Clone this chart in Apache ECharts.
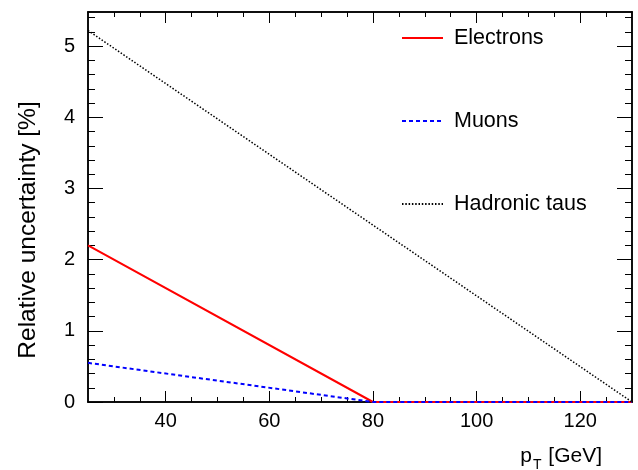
<!DOCTYPE html>
<html lang="en">
<head>
    <meta charset="UTF-8">
    <title>Relative uncertainty</title>
    <style>
        body{ margin: 0; background: #fff; }
        #main{ width: 638px; height: 470px; }
    </style>
</head>
<body>
<div id="main"></div>
<script src="https://cdn.jsdelivr.net/npm/echarts@6/dist/echarts.min.js"></script>
<script>
    const chart = echarts.init(document.getElementById('main'));

    // data
    const ptEdges = [25, 80, 130];
    const electrons = [2.2, 0, 0];
    const muons = [0.55, 0, 0];
    const tauPt = [25, 130];
    const taus = [5.22, 0];

    const xMajor = [40, 60, 80, 100, 120];
    const xMinor = [30, 35, 45, 50, 55, 65, 70, 75, 85, 90, 95, 105, 110, 115, 125];
    const yMajor = [0, 1, 2, 3, 4, 5];
    const yMinor = [0.2, 0.4, 0.6, 0.8, 1.2, 1.4, 1.6, 1.8, 2.2, 2.4, 2.6, 2.8,
        3.2, 3.4, 3.6, 3.8, 4.2, 4.4, 4.6, 4.8, 5.2, 5.4];

    const font = 'Liberation Sans, Arial, Helvetica, sans-serif';
    const black = '#000';

    function xAx(pos, ticks, len, labels) {
        return {
            type: 'value', min: 25, max: 130, position: pos,
            axisLine: {show: true, onZero: false, lineStyle: {color: black, width: 1.5}},
            axisTick: {show: true, inside: true, length: len, customValues: ticks,
                lineStyle: {color: black, width: 1}},
            axisLabel: {show: labels, customValues: ticks, margin: 9,
                fontSize: 20, color: black, fontFamily: font},
            splitLine: {show: false}
        };
    }
    function yAx(pos, ticks, len, labels) {
        return {
            type: 'value', min: 0, max: 5.48, position: pos,
            axisLine: {show: true, onZero: false, lineStyle: {color: black, width: 1.5}},
            axisTick: {show: true, inside: true, length: len, customValues: ticks,
                lineStyle: {color: black, width: 1}},
            axisLabel: {show: labels, customValues: ticks, margin: 13,
                fontSize: 20, color: black, fontFamily: font},
            splitLine: {show: false}
        };
    }

    const xAxes = [xAx('bottom', xMajor, 11, true), xAx('bottom', xMinor, 5, false),
        xAx('top', xMajor, 11, false), xAx('top', xMinor, 5, false)];
    xAxes[0].name = '{p|p}{t|T}{p| [GeV]}';
    xAxes[0].nameLocation = 'end';
    xAxes[0].nameGap = -30;
    xAxes[0].nameTextStyle = {
        align: 'right', verticalAlign: 'top', padding: [38, 0, 0, 0],
        rich: {
            p: {fontSize: 21, color: black, fontFamily: font},
            t: {fontSize: 14, color: black, fontFamily: font, padding: [18, 1, 0, 1]}
        }
    };

    const yAxes = [yAx('left', yMajor, 15, true), yAx('left', yMinor, 7, false),
        yAx('right', yMajor, 15, false), yAx('right', yMinor, 7, false)];
    yAxes[0].name = 'Relative uncertainty [%]';
    yAxes[0].nameLocation = 'middle';
    yAxes[0].nameGap = 47;
    yAxes[0].nameTextStyle = {fontSize: 24.5, color: black, fontFamily: font, padding: [0, 46, 0, 0]};

    const option = {
        animation: false,
        grid: {left: 88, right: 6, top: 12, bottom: 68, outerBoundsMode: 'none', containLabel: false},
        legend: {
            orient: 'vertical', left: 401, top: 27, padding: 0,
            itemWidth: 41, itemHeight: 14, itemGap: 61,
            itemStyle: {color: 'transparent', borderWidth: 0},
            textStyle: {fontSize: 21.5, color: black, fontFamily: font, padding: [0, 0, 0, 6]},
            data: ['Electrons', 'Muons', 'Hadronic taus']
        },
        xAxis: xAxes,
        yAxis: yAxes,
        series: [
            {
                name: 'Electrons', type: 'line', symbol: 'none',
                data: ptEdges.map((x, i) => [x, electrons[i]]),
                lineStyle: {color: '#ff0000', width: 2}, itemStyle: {color: '#ff0000'}
            },
            {
                name: 'Muons', type: 'line', symbol: 'none',
                data: ptEdges.map((x, i) => [x, muons[i]]),
                lineStyle: {color: '#0000ff', width: 2, type: [4, 3]}, itemStyle: {color: '#0000ff'}
            },
            {
                name: 'Hadronic taus', type: 'line', symbol: 'none',
                data: tauPt.map((x, i) => [x, taus[i]]),
                lineStyle: {color: black, width: 1.5, type: [1.5, 1.8]}, itemStyle: {color: black}
            }
        ]
    };

    chart.setOption(option);
</script>
</body>
</html>
